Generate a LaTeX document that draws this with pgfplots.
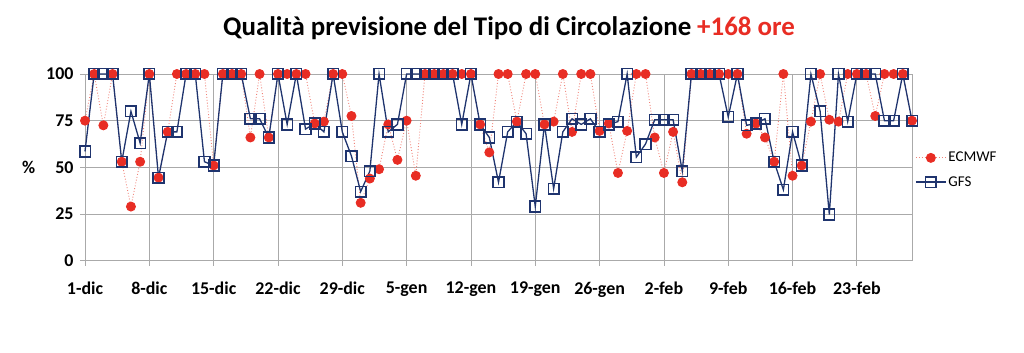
\documentclass[border=0pt]{standalone}
\usepackage{pgfplots}
\pgfplotsset{compat=1.18}
\usepackage{pgfplotstable}
\usepackage{fontspec}
\setmainfont{Carlito}
\definecolor{ecred}{RGB}{232,45,36}
\definecolor{ecline}{RGB}{240,130,120}
\definecolor{gfsblue}{RGB}{31,52,110}
\definecolor{gridgray}{RGB}{170,170,170}
\pgfplotstableread{
i e g
0 75 58.5
1 100 100
2 72.5 100
3 100 100
4 53 53
5 29 80
6 53 63
7 100 100
8 44.5 44.5
9 69 69
10 100 69
11 100 100
12 100 100
13 100 53
14 51 51
15 100 100
16 100 100
17 100 100
18 66 76
19 100 76
20 66 66
21 100 100
22 100 73
23 100 100
24 100 70.5
25 73.5 73.5
26 74.5 69
27 100 100
28 100 69
29 77.5 56
30 31 37
31 44 48
32 49 100
33 73 69
34 54 73
35 75 100
36 45.5 100
37 100 100
38 100 100
39 100 100
40 100 100
41 100 73
42 100 100
43 73 73
44 58 66
45 100 42
46 100 69
47 74.5 74.5
48 100 68
49 100 29
50 73 73
51 74.5 38.5
52 100 69
53 69 76
54 100 73
55 100 76
56 69.5 69
57 73.5 73
58 47 74.5
59 69.5 100
60 100 55.5
61 100 62.5
62 66 75.5
63 47 75.5
64 69 75.5
65 42 48
66 100 100
67 100 100
68 100 100
69 100 100
70 100 77
71 100 100
72 68 72.5
73 73.5 73.5
74 66 76
75 53 53
76 100 38
77 45.5 69
78 51 51
79 74.5 100
80 100 80
81 75.5 24.7
82 74.5 100
83 100 74.5
84 100 100
85 100 100
86 77.5 100
87 100 75
88 100 75
89 100 100
90 75 75
}\datatab
\begin{document}
\begin{tikzpicture}[x=1bp,y=1bp]
\useasboundingbox (0,0) rectangle (1024,352);
\node[font=\bfseries\fontsize{27}{30}\selectfont] at (509,324) {Qualità previsione del Tipo di Circolazione \textcolor{ecred}{+168 ore}};
\begin{axis}[
  at={(85bp,91.3bp)}, anchor=south west,
  scale only axis, width=827bp, height=186.7bp,
  xmin=0, xmax=90, ymin=0, ymax=100,
  clip=false,
  xtick={0,7,...,84},
  xticklabels={1-dic,8-dic,15-dic,22-dic,29-dic,5-gen,12-gen,19-gen,26-gen,2-feb,9-feb,16-feb,23-feb},
  ytick={0,25,50,75,100},
  xtick pos=bottom, ytick pos=left,
  tick align=outside, major tick length=5bp,
  tick style={gridgray, line width=0.8bp},
  grid=major, major grid style={gridgray, line width=0.8bp},
  axis line style={gridgray, line width=0.8bp},
  /pgf/number format/assume math mode=true,
  tick label style={font=\bfseries\fontsize{18}{20}\selectfont, text=black},
  yticklabel style={xshift=-3bp},
  xticklabel style={yshift=-13bp},
  ylabel={\%},
  ylabel style={at={(axis description cs:-0.068,0.5)}, rotate=-90, anchor=center, font=\bfseries\fontsize{18}{20}\selectfont},
  legend style={at={(axis description cs:1.0,0.486)}, anchor=west, draw=none, fill=none,
    font=\fontsize{15}{17}\selectfont, row sep=9bp},
  legend cell align=left,
  legend image code/.code={\draw[mark repeat=2,mark phase=2] plot coordinates {(0bp,0bp) (15bp,0bp) (30bp,0bp)};},
]
\addplot[ecline, dotted, line width=0.9bp, mark=*, mark size=4.5bp,
  mark options={solid, draw=ecred, fill=ecred}] table[x=i, y=e] {\datatab};
\addlegendentry{ECMWF}
\addplot[gfsblue, line width=1.3bp, mark=square, mark size=5.3bp,
  mark options={solid, draw=gfsblue, fill=none, line width=1.6bp}] table[x=i, y=g] {\datatab};
\addlegendentry{GFS}
\end{axis}
\end{tikzpicture}
\end{document}
